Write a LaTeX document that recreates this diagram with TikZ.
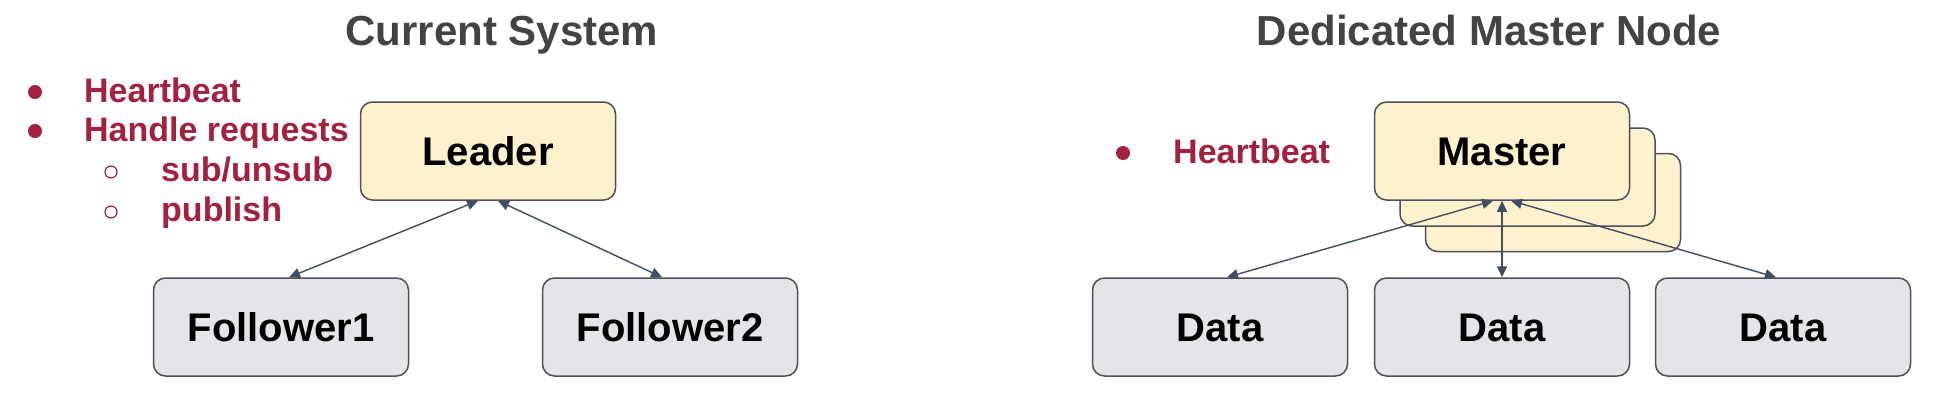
\documentclass[tikz,border=0pt]{standalone}
\usepackage{fontspec}
\setmainfont{Liberation Sans}
\usetikzlibrary{arrows.meta}
\definecolor{titlegray}{HTML}{434343}
\definecolor{bulletred}{HTML}{A3203E}
\definecolor{boxyellow}{HTML}{FDF1CE}
\definecolor{boxgray}{HTML}{E6E4E8}
\definecolor{boxborder}{HTML}{4F4F58}
\definecolor{arrowslate}{HTML}{414D63}
\tikzset{
  box/.style={draw=boxborder, line width=1.5pt, rounded corners=12pt,
    minimum width=255pt, minimum height=98pt, inner sep=0pt,
    text height=28pt, text depth=0pt,
    font=\fontsize{40}{48}\selectfont\bfseries, text=black},
  ybox/.style={box, fill=boxyellow},
  gbox/.style={box, fill=boxgray},
  titletext/.style={anchor=base, text=titlegray, inner sep=0pt,
    font=\fontsize{42}{50}\selectfont\bfseries},
  itemtext/.style={anchor=base west, text=bulletred, inner sep=0pt,
    font=\fontsize{34}{40}\selectfont\bfseries},
  dot/.style={circle, fill=bulletred, minimum size=14pt, inner sep=0pt},
  odot/.style={circle, draw=bulletred, line width=1.2pt, minimum size=12pt, inner sep=0pt},
  link/.style={draw=arrowslate, line width=1.4pt,
    {Triangle[length=11pt,width=10pt]}-{Triangle[length=11pt,width=10pt]}}
}
\begin{document}
\begin{tikzpicture}[x=1pt,y=-1pt]
\useasboundingbox[fill=white] (0,0) rectangle (1950,400);

% titles
\node[titletext] (t1) at (502,45) {Current System};
\node[titletext] (t2) at (1489,45) {Dedicated Master Node};

% left bullets
\node[dot] (b1) at (35,92) {};
\node[itemtext] (h1) at (84,102) {Heartbeat};
\node[dot] (b2) at (35,131) {};
\node[itemtext] (h2) at (84,141) {Handle requests};
\node[odot] (b3) at (111,172) {};
\node[itemtext] (h3) at (161,181) {sub/unsub};
\node[odot] (b4) at (111,212) {};
\node[itemtext] (h4) at (161,221) {publish};

% left boxes
\node[ybox] (leader) at (488,151) {Leader};
\node[gbox] (f1) at (281,327) {Follower1};
\node[gbox] (f2) at (670,327) {Follower2};

\draw[link] ([xshift=-10pt]leader.south) -- ([xshift=8pt]f1.north);
\draw[link] ([xshift=10pt]leader.south) -- ([xshift=-8pt]f2.north);

% right bullet
\node[dot] (b5) at (1123,153) {};
\node[itemtext] (h5) at (1173,163) {Heartbeat};

% master stack
\node[ybox] (m3) at (1553,202.5) {};
\node[ybox] (m2) at (1527.5,177) {};
\node[ybox] (master) at (1502,151) {Master};

\node[gbox] (d1) at (1220,327) {Data};
\node[gbox] (d2) at (1502,327) {Data};
\node[gbox] (d3) at (1783,327) {Data};

\draw[link] ([xshift=-9pt]master.south) -- ([xshift=7pt]d1.north);
\draw[link] (master.south) -- (d2.north);
\draw[link] ([xshift=9pt]master.south) -- ([xshift=-7pt]d3.north);
\end{tikzpicture}
\end{document}
